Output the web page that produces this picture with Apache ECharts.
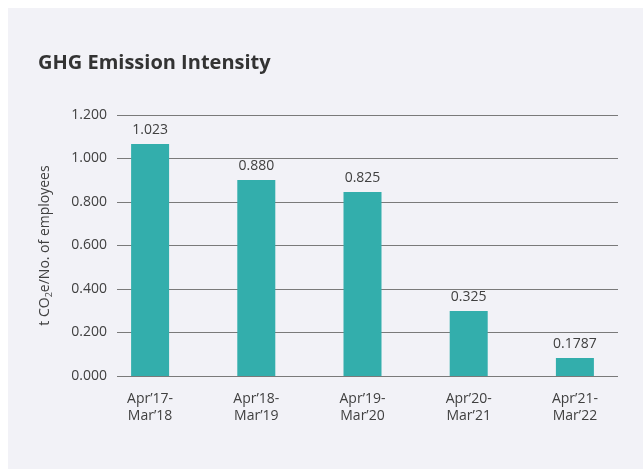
<!DOCTYPE html>
<html><head><meta charset="utf-8">
<script src="https://cdn.jsdelivr.net/npm/echarts@6/dist/echarts.min.js"></script>
<style>html,body{margin:0;padding:0;background:#fff}#c{width:643px;height:469px}</style>
</head><body><div id="c"></div>
<script>
const categories = ["Apr\u201917-\nMar\u201918", "Apr\u201918-\nMar\u201919", "Apr\u201919-\nMar\u201920", "Apr\u201920-\nMar\u201921", "Apr\u201921-\nMar\u201922"];
// bar heights as drawn in the picture
const barHeights = [1.067, 0.901, 0.846, 0.299, 0.083];
// value labels as printed
const labelTexts = ["1.023", "0.880", "0.825", "0.325", "0.1787"];
const yTicks = ["0.000", "0.200", "0.400", "0.600", "0.800", "1.000", "1.200"];

const FONT = "'Open Sans', 'Noto Sans', sans-serif";
const chart = echarts.init(document.getElementById('c'));
chart.setOption({
  backgroundColor: '#ffffff',
  animation: false,
  graphic: [{
    type: 'rect', z: -10, silent: true,
    shape: {x: 8, y: 8, width: 640, height: 470},
    style: {fill: '#f2f2f7'}
  }],
  title: {
    text: 'GHG Emission Intensity',
    left: 33, top: 48,
    textStyle: {fontFamily: FONT, fontWeight: 'bold', fontSize: 20, color: '#333333'}
  },
  grid: [
    {left: 117, right: 25, top: 115, bottom: 93},
    {left: 97, right: 15, top: 115, bottom: 93}
  ],
  xAxis: [
    {gridIndex: 0, type: 'category', data: categories, show: false},
    {gridIndex: 1, type: 'category', data: categories,
     axisLine: {show: false}, axisTick: {show: false},
     axisLabel: {fontFamily: FONT, fontSize: 14, color: '#404040', margin: 15, lineHeight: 17}}
  ],
  yAxis: [
    {gridIndex: 0, type: 'value', min: 0, max: 1.2, interval: 0.2,
     name: 't CO{sub|2}e/No. of employees',
     nameLocation: 'middle', nameGap: 63, nameRotate: 90,
     nameTextStyle: {fontFamily: FONT, fontSize: 14, color: '#404040',
       rich: {sub: {fontFamily: FONT, fontSize: 9, color: '#404040', verticalAlign: 'bottom', padding: [8, 0, 0, 0]}}},
     axisLine: {show: false}, axisTick: {show: false},
     axisLabel: {fontFamily: FONT, fontSize: 14, color: '#404040', margin: 10,
       formatter: (v) => yTicks[Math.round(v / 0.2)]},
     splitLine: {lineStyle: {color: '#7a7a7a', width: 1}}},
    {gridIndex: 1, type: 'value', min: 0, max: 1.2, interval: 0.2, show: false,
     splitLine: {show: false}}
  ],
  series: [{
    type: 'bar', xAxisIndex: 1, yAxisIndex: 1,
    data: barHeights,
    barWidth: 38,
    itemStyle: {color: '#33aeac'},
    label: {show: true, position: 'top', distance: 7,
      fontFamily: FONT, fontSize: 14, color: '#404040',
      formatter: (p) => labelTexts[p.dataIndex]}
  }]
});
</script></body></html>
